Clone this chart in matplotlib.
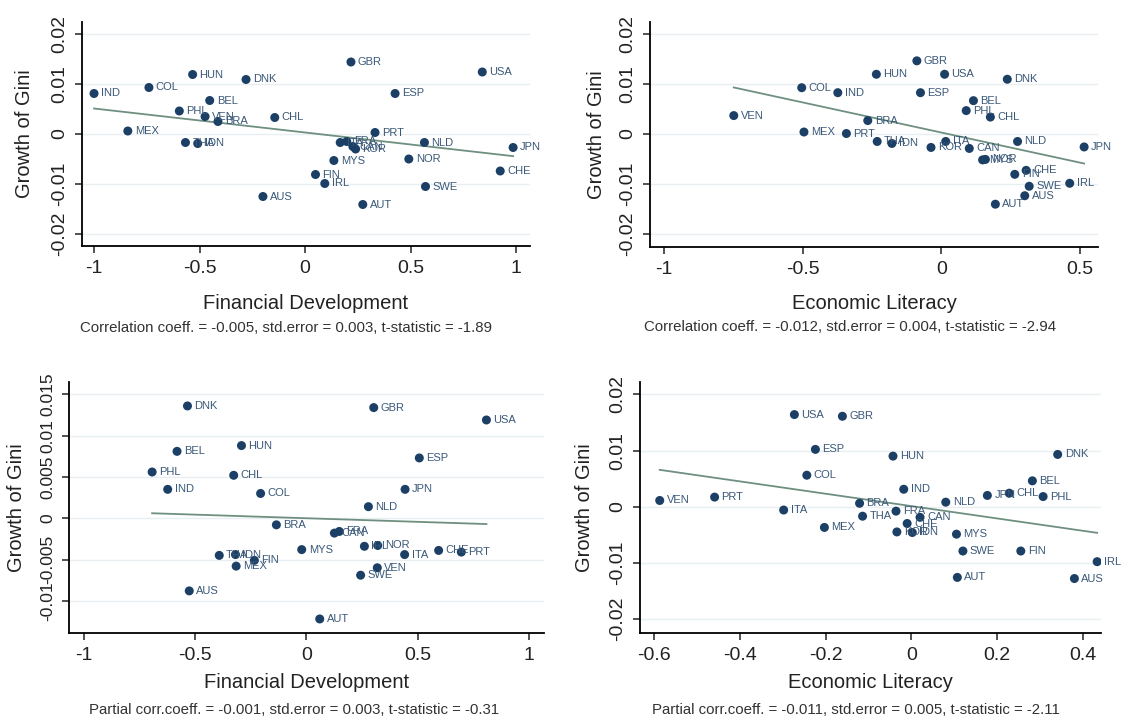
import matplotlib
matplotlib.use("Agg")
import matplotlib.pyplot as plt
import numpy as np
from matplotlib.ticker import FixedLocator, FuncFormatter

plt.rcParams['font.family'] = ['Liberation Sans', 'DejaVu Sans']

# top left: growth of Gini vs financial development
codes_fd = ["GBR", "USA", "HUN", "DNK", "COL", "IND", "ESP", "BEL", "PHL", "VEN",
            "BRA", "CHL", "MEX", "PRT", "THA", "IDN", "ITA", "FRA", "CAN", "KOR",
            "NLD", "JPN", "MYS", "NOR", "CHE", "FIN", "IRL", "SWE", "AUS", "AUT"]
x_fd = [0.217, 0.839, -0.533, -0.280, -0.740, -1.000, 0.426, -0.452, -0.596, -0.474,
        -0.413, -0.144, -0.840, 0.331, -0.567, -0.509, 0.166, 0.197, 0.226, 0.239,
        0.565, 0.985, 0.136, 0.491, 0.924, 0.049, 0.093, 0.570, -0.200, 0.273]
y_fd = [0.0144, 0.0124, 0.0119, 0.0109, 0.0093, 0.0081, 0.0081, 0.0067, 0.0046, 0.0035,
        0.0025, 0.0033, 0.0006, 0.0003, -0.0017, -0.0019, -0.0017, -0.0015, -0.0025, -0.0030,
        -0.0017, -0.0027, -0.0053, -0.0050, -0.0074, -0.0081, -0.0099, -0.0105, -0.0125, -0.0141]

# top right: growth of Gini vs economic literacy
codes_el = ["GBR", "HUN", "USA", "DNK", "COL", "IND", "ESP", "BEL", "PHL", "CHL",
            "VEN", "BRA", "MEX", "PRT", "THA", "IDN", "KOR", "ITA", "CAN", "NLD",
            "JPN", "MYS", "NOR", "FIN", "CHE", "IRL", "SWE", "AUS", "AUT"]
x_el = [-0.088, -0.234, 0.012, 0.238, -0.503, -0.373, -0.075, 0.116, 0.090, 0.177,
        -0.748, -0.265, -0.495, -0.342, -0.231, -0.178, -0.037, 0.016, 0.101, 0.275,
        0.515, 0.149, 0.159, 0.265, 0.306, 0.463, 0.317, 0.301, 0.195]
y_el = [0.0147, 0.0120, 0.0120, 0.0110, 0.0093, 0.0083, 0.0083, 0.0067, 0.0047, 0.0034,
        0.0037, 0.0027, 0.0004, 0.0001, -0.0015, -0.0019, -0.0027, -0.0015, -0.0029, -0.0015,
        -0.0026, -0.0052, -0.0051, -0.0081, -0.0073, -0.0099, -0.0105, -0.0124, -0.0141]

# bottom left: partial plot, financial development
codes_fdp = ["DNK", "GBR", "USA", "HUN", "BEL", "ESP", "PHL", "CHL", "IND", "COL",
             "JPN", "NLD", "BRA", "CAN", "FRA", "MYS", "IRL", "NOR", "ITA", "CHE",
             "PRT", "THA", "IDN", "MEX", "FIN", "VEN", "SWE", "AUS", "AUT"]
x_fdp = [-0.535, 0.303, 0.810, -0.292, -0.582, 0.508, -0.694, -0.327, -0.624, -0.206,
         0.444, 0.279, -0.135, 0.126, 0.148, -0.021, 0.261, 0.321, 0.442, 0.595,
         0.697, -0.392, -0.319, -0.316, -0.234, 0.319, 0.244, -0.527, 0.060]
y_fdp = [0.0136, 0.0134, 0.0119, 0.0088, 0.0081, 0.0073, 0.0056, 0.0052, 0.0035, 0.0030,
         0.0035, 0.0014, -0.0008, -0.0018, -0.0016, -0.0038, -0.0034, -0.0033, -0.0044, -0.0039,
         -0.0041, -0.0045, -0.0044, -0.0058, -0.0051, -0.0060, -0.0069, -0.0088, -0.0122]

# bottom right: partial plot, economic literacy
codes_elp = ["USA", "GBR", "ESP", "HUN", "DNK", "COL", "BEL", "IND", "JPN", "CHL",
             "PHL", "PRT", "VEN", "BRA", "NLD", "ITA", "FRA", "THA", "CAN", "CHE",
             "MEX", "KOR", "IDN", "MYS", "SWE", "FIN", "IRL", "AUT", "AUS"]
x_elp = [-0.273, -0.161, -0.224, -0.043, 0.341, -0.244, 0.282, -0.018, 0.177, 0.228,
         0.307, -0.459, -0.587, -0.121, 0.080, -0.298, -0.036, -0.114, 0.020, -0.010,
         -0.203, -0.034, 0.002, 0.105, 0.120, 0.255, 0.433, 0.107, 0.380]
y_elp = [0.0164, 0.0161, 0.0102, 0.0090, 0.0093, 0.0056, 0.0046, 0.0031, 0.0020, 0.0024,
         0.0018, 0.0017, 0.0011, 0.0006, 0.0008, -0.0006, -0.0008, -0.0017, -0.0019, -0.0030,
         -0.0037, -0.0045, -0.0046, -0.0049, -0.0079, -0.0079, -0.0098, -0.0126, -0.0128]

# fitted lines (slope, intercept)
fit_fd = [-0.0048, 0.0003]
fit_el = [-0.0121, 0.0003]
fit_fdp = [-0.00087, 0.0000]
fit_elp = [-0.0110, 0.0001]

captions = [
    "Correlation coeff. = -0.005, std.error = 0.003, t-statistic = -1.89",
    "Correlation coeff. = -0.012, std.error = 0.004, t-statistic = -2.94",
    "Partial corr.coeff. = -0.001, std.error = 0.003, t-statistic = -0.31",
    "Partial corr.coeff. = -0.011, std.error = 0.005, t-statistic = -2.11",
]

W, H = 1123, 720
fig = plt.figure(figsize=(W / 100, H / 100), dpi=100)
fig.patch.set_facecolor('white')

navy = '#1c3f66'
lbl_col = '#3a5878'
fit_col = '#6f9080'


def fmt(v, pos):
    s = '%g' % round(v, 4)
    return '0' if s in ('-0', '0') else s


def rect_px(left, top, right, bottom):
    return [left / W, 1 - bottom / H, (right - left) / W, (bottom - top) / H]


def panel(rect, codes, xs, ys, fit, xticks, yticks, xlim, ylim, xlabel, ylabel_x,
          caption, cap_xy, xlab_y, ytick_size=14):
    ax = fig.add_axes(rect)
    ax.set_xlim(*xlim)
    ax.set_ylim(*ylim)
    ax.yaxis.grid(True, color='#e9eff1', lw=1.0)
    ax.set_axisbelow(True)
    for s in ['top', 'right']:
        ax.spines[s].set_visible(False)
    for s in ['left', 'bottom']:
        ax.spines[s].set_linewidth(1.3)
        ax.spines[s].set_color('black')

    xs = np.array(xs)
    xx = np.array([xs.min(), xs.max()])
    ax.plot(xx, fit[0] * xx + fit[1], color=fit_col, lw=1.3, zorder=2)
    ax.scatter(xs, ys, s=42, color=navy, edgecolors='none', zorder=3)
    for c, x, y in zip(codes, xs, ys):
        ax.annotate(c, (x, y), xytext=(5, 0), textcoords='offset points',
                    va='center', ha='left', fontsize=8, color=lbl_col, zorder=4)

    ax.xaxis.set_major_locator(FixedLocator(xticks))
    ax.yaxis.set_major_locator(FixedLocator(yticks))
    ax.xaxis.set_major_formatter(FuncFormatter(fmt))
    ax.yaxis.set_major_formatter(FuncFormatter(fmt))
    ax.tick_params(direction='out', length=5, width=1.1, labelsize=14,
                   colors='#222222', pad=5)
    ax.tick_params(axis='y', labelsize=ytick_size)
    for t in ax.get_yticklabels():
        t.set_rotation(90)
        t.set_va('center')

    # axis titles and the caption under each panel
    fig.text(rect[0] + rect[2] / 2, 1 - xlab_y / H, xlabel, ha='center', va='center',
             fontsize=14.5, color='#222222')
    fig.text(ylabel_x / W, rect[1] + rect[3] / 2, 'Growth of Gini', rotation=90,
             ha='center', va='center', fontsize=14.5, color='#222222')
    fig.text(cap_xy[0] / W, 1 - cap_xy[1] / H, caption, ha='center', va='center',
             fontsize=10.8, color='#333333')
    return ax


panel(rect_px(82, 22, 530, 246), codes_fd, x_fd, y_fd, fit_fd,
      [-1, -0.5, 0, 0.5, 1], [-0.02, -0.01, 0, 0.01, 0.02],
      (-1.057, 1.065), (-0.0224, 0.0224), "Financial Development", 25,
      captions[0], (286, 328), 303)

panel(rect_px(650, 22, 1098, 247), codes_el, x_el, y_el, fit_el,
      [-1, -0.5, 0, 0.5], [-0.02, -0.01, 0, 0.01, 0.02],
      (-1.05, 0.565), (-0.0227, 0.0225), "Economic Literacy", 597,
      captions[1], (850, 327), 303)

panel(rect_px(69, 382, 544, 633), codes_fdp, x_fdp, y_fdp, fit_fdp,
      [-1, -0.5, 0, 0.5, 1], [-0.01, -0.005, 0, 0.005, 0.01, 0.015],
      (-1.068, 1.069), (-0.0139, 0.0165), "Financial Development", 17,
      captions[2], (294, 710), 683, ytick_size=12.5)

panel(rect_px(640, 382, 1101, 633), codes_elp, x_elp, y_elp, fit_elp,
      [-0.6, -0.4, -0.2, 0, 0.2, 0.4], [-0.02, -0.01, 0, 0.01, 0.02],
      (-0.633, 0.442), (-0.0225, 0.0222), "Economic Literacy", 584,
      captions[3], (856, 710), 682)

fig.savefig('out.png', dpi=100, facecolor='white')
